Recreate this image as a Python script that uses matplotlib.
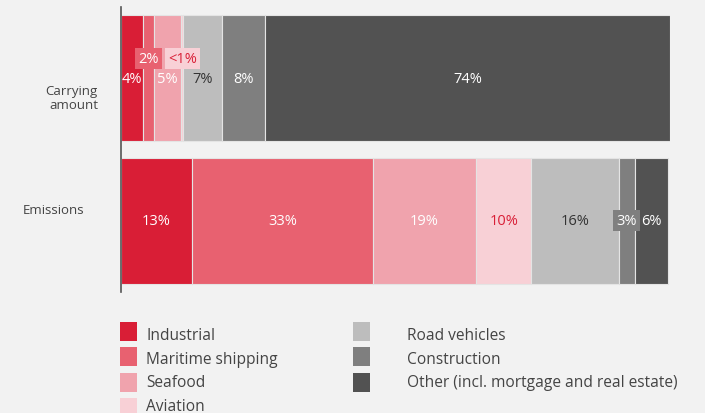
import matplotlib.pyplot as plt
from matplotlib.patches import Rectangle

plt.rcParams['font.family'] = ['Open Sans', 'DejaVu Sans']

# sectors, in stacking order
sectors = ['Industrial', 'Maritime shipping', 'Seafood', 'Aviation',
           'Road vehicles', 'Construction', 'Other (incl. mortgage and real estate)']
colors = ['#d91e36', '#e86170', '#f0a3ad', '#f8d0d6', '#bdbdbd', '#7f7f7f', '#525252']
text_colors = ['white', 'white', 'white', '#d91e36', '#333333', 'white', 'white']

rows = ['Carrying\namount', 'Emissions']
carrying = [4, 2, 5, 0.4, 7, 8, 74]
emissions = [13, 33, 19, 10, 16, 3, 6]
carrying_labels = ['4%', '2%', '5%', '<1%', '7%', '8%', '74%']
emissions_labels = ['13%', '33%', '19%', '10%', '16%', '3%', '6%']

# labels that sit in a small box (and are lifted a bit on the top bar)
boxed = {(0, 1): -0.14, (0, 3): -0.14, (1, 5): 0.0}

bg = '#f2f2f2'
fig = plt.figure(figsize=(7.05, 4.14), dpi=100, facecolor=bg)
ax = fig.add_axes([121 / 705, 1 - 293 / 414, 549 / 705, 285 / 414], facecolor=bg)

for r, (vals, labs) in enumerate([(carrying, carrying_labels), (emissions, emissions_labels)]):
    left = 0
    for i, v in enumerate(vals):
        ax.barh(r, v, left=left, height=0.885, color=colors[i],
                edgecolor='#e4e4e4', linewidth=0.8)
        cx = left + v / 2
        if (r, i) in boxed:
            ax.text(cx, r + boxed[(r, i)], labs[i], ha='center', va='center',
                    fontsize=10.5, color=text_colors[i],
                    bbox=dict(boxstyle='square,pad=0.22', fc=colors[i], ec='none'))
        else:
            ax.text(cx, r, labs[i], ha='center', va='center',
                    fontsize=10.5, color=text_colors[i])
        left += v

ax.set_xlim(0, max(sum(carrying), sum(emissions)))
ax.set_ylim(1.5, -0.5)
ax.set_xticks([])
ax.set_yticks([])
for s in ['top', 'right', 'bottom']:
    ax.spines[s].set_visible(False)
ax.spines['left'].set_color('#555555')
ax.spines['left'].set_linewidth(1.2)

# row names
fig.text(98 / 705, 1 - 99 / 414, rows[0], ha='right', va='center', fontsize=9.5,
         color='#444444', multialignment='right', linespacing=1.1)
fig.text(84 / 705, 1 - 211 / 414, rows[1], ha='right', va='center', fontsize=9.5,
         color='#444444')

# legend in two columns
col_x = [120, 353]
text_x = [146, 407]
for i, name in enumerate(sectors):
    col = 0 if i < 4 else 1
    row = i if i < 4 else i - 4
    top = 323 + row * 25.3
    fig.add_artist(Rectangle((col_x[col] / 705, 1 - (top + 19) / 414), 17 / 705, 19 / 414,
                             transform=fig.transFigure, color=colors[i], lw=0))
    fig.text(text_x[col] / 705, 1 - (340 + row * 23.6) / 414, name, ha='left',
             va='baseline', fontsize=11.2, color='#444444')

plt.savefig('out.png', dpi=100, facecolor=bg)
